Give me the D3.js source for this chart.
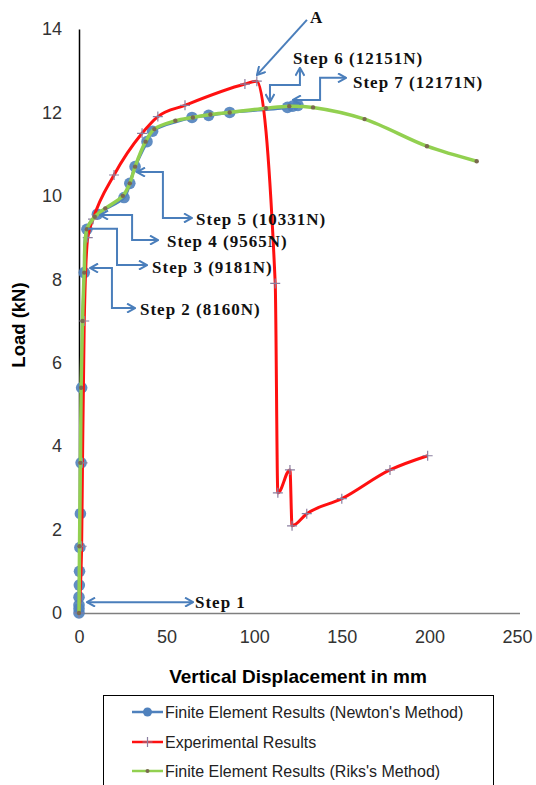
<!DOCTYPE html>
<html><head><meta charset="utf-8">
<script src="https://d3js.org/d3.v7.min.js"></script>
<style>body{margin:0;background:#fff}svg{display:block}</style>
</head><body>
<script>
// ---- data ----
const newtonX = [0,0,0,0,0.2,0.3,0.5,0.8,1.2,1.5,3,4.5,10.5,25.7,29,32,38.8,42,64.5,74,86,119,122,125];
const newtonY = [0,0.1,0.19,0.38,0.67,1.0,1.57,2.38,3.6,5.4,8.16,9.2,9.56,9.96,10.3,10.7,11.3,11.55,11.88,11.93,12.0,12.12,12.15,12.17];
const expX = [0,1.5,2,3,5,8,20,36,45,60.5,94.7,101.5,112,113.5,120.4,121.6,130,150,177.5,199];
const expY = [0,1.6,3.6,7.0,9.0,9.44,10.5,11.5,11.9,12.17,12.68,12.75,7.9,2.88,3.43,2.09,2.38,2.74,3.43,3.77];
const riksX = [0,0.3,0.8,1.2,2,3,4.5,9,15,25,29,32,38,43,55,65,75,86,106.7,120,133.6,163,198.6,227];
const riksY = [0,1.6,3.6,5.4,7.0,8.16,9.2,9.5,9.7,10.0,10.3,10.7,11.3,11.6,11.8,11.88,11.95,12.0,12.1,12.15,12.12,11.84,11.19,10.83];
const xTicks = [0,50,100,150,200,250];
const yTicks = [0,2,4,6,8,10,12,14];
const legendLabels = ["Finite Element Results (Newton's Method)","Experimental Results","Finite Element Results (Riks's Method)"];
// annotation arrows (data units): label, path points, text anchor point, arrowhead at start
const annLabels = ["Step 1","Step 2 (8160N)","Step 3 (9181N)","Step 4 (9565N)","Step 5 (10331N)","Step 6 (12151N)","Step 7 (12171N)","A"];
const annPaths = [
  [[4.6,0.26],[65.1,0.26]],
  [[6.3,8.27],[18.8,8.27],[18.8,7.31],[32.0,7.31]],
  [[5.1,9.21],[21.7,9.21],[21.7,8.34],[38.8,8.34]],
  [[12.0,9.54],[30.3,9.54],[30.3,8.94],[45.1,8.94]],
  [[33.1,10.57],[47.9,10.57],[47.9,9.47],[64.5,9.47]],
  [[109,12.25],[109,12.66],[126.1,12.66],[126.1,13.07]],
  [[122.1,12.30],[137.6,12.30],[137.6,12.83],[152.4,12.83]],
  [[130.1,14.22],[101.6,12.90]]
];
const annText = [[66.2,0.26],[34.8,7.29],[41.7,8.30],[50.2,8.92],[66.8,9.45],[122.1,13.3],[156.4,12.73],[131.8,14.29]];
const annStartHead = [true,true,false,true,true,true,true,false];

// ---- layout ----
const W = 536, H = 785;
const svg = d3.select("body").append("svg").attr("width", W).attr("height", H);
const x = d3.scaleLinear().domain([0,250]).range([79,517]);
const y = d3.scaleLinear().domain([0,14]).range([613,29]);
const blue = "#4f81bd", red = "#ff1010", green = "#92d050", arrowC = "#4a7ebb";

const defs = svg.append("defs");
defs.append("marker").attr("id","ah").attr("viewBox","0 0 10 10").attr("refX",9).attr("refY",5)
  .attr("markerWidth",10).attr("markerHeight",10).attr("markerUnits","userSpaceOnUse")
  .attr("orient","auto-start-reverse")
  .append("path").attr("d","M1,0.5 L9,5 L1,9.5").attr("fill","none").attr("stroke",arrowC).attr("stroke-width",2);

// axes
const xAxis = d3.axisBottom(x).tickValues(xTicks).tickSize(0).tickPadding(17);
const gx = svg.append("g").attr("transform",`translate(0,${y(0)})`).call(xAxis);
gx.select(".domain").attr("stroke","#7f7f7f").attr("stroke-width",1.3).attr("d",`M${x(0)},0.5H${x(250)+3}`);
gx.selectAll("text").attr("font-family","Liberation Sans, Arial, sans-serif").attr("font-size",18).attr("fill","#333");

const yAxis = d3.axisLeft(y).tickValues(yTicks).tickSize(0).tickPadding(17);
const gy = svg.append("g").attr("transform",`translate(${x(0)},0)`).call(yAxis);
gy.select(".domain").attr("stroke","#000").attr("stroke-width",1.5);
gy.selectAll("text").attr("font-family","Liberation Sans, Arial, sans-serif").attr("font-size",18).attr("fill","#333");

svg.append("text").attr("x",298).attr("y",683).attr("text-anchor","middle")
  .attr("font-family","Liberation Sans, Arial, sans-serif").attr("font-weight","bold").attr("font-size",19)
  .text("Vertical Displacement in mm");
svg.append("text").attr("transform","translate(25,325) rotate(-90)").attr("text-anchor","middle")
  .attr("font-family","Liberation Sans, Arial, sans-serif").attr("font-weight","bold").attr("font-size",18.5)
  .text("Load (kN)");

// series
const newton = newtonX.map((v,i)=>[v,newtonY[i]]);
const exp = expX.map((v,i)=>[v,expY[i]]);
const riks = riksX.map((v,i)=>[v,riksY[i]]);
const line = d3.line().x(d=>x(d[0])).y(d=>y(d[1])).curve(d3.curveCatmullRom.alpha(0.5));
const expLine = d3.line().x(d=>x(d[0])).y(d=>y(d[1])).curve(d3.curveMonotoneX);

svg.append("path").attr("d",line(newton)).attr("fill","none").attr("stroke",blue).attr("stroke-width",3);
svg.selectAll(".nm").data(newton).join("circle").attr("cx",d=>x(d[0])).attr("cy",d=>y(d[1])).attr("r",5.8).attr("fill",blue).attr("opacity",0.9);

svg.append("path").attr("d",expLine(exp)).attr("fill","none").attr("stroke",red).attr("stroke-width",3);
const pm = svg.append("g");
exp.forEach(d=>{
  pm.append("path").attr("d",`M${x(d[0])-5},${y(d[1])}h10M${x(d[0])},${y(d[1])-5}v10`).attr("stroke","#8a7fa0").attr("stroke-width",1.2);
});

svg.append("path").attr("d",line(riks)).attr("fill","none").attr("stroke",green).attr("stroke-width",3.5);
svg.selectAll(".rm").data(riks).join("circle").attr("cx",d=>x(d[0])).attr("cy",d=>y(d[1])).attr("r",2.2).attr("fill","#7a6a4f");

// annotations
const aline = d3.line().x(d=>x(d[0])).y(d=>y(d[1]));
annPaths.forEach((p,i)=>{
  svg.append("path").attr("d",aline(p)).attr("fill","none").attr("stroke",arrowC).attr("stroke-width",2)
    .attr("marker-end","url(#ah)").attr("marker-start", annStartHead[i] ? "url(#ah)" : null);
  svg.append("text").attr("x",x(annText[i][0])).attr("y",y(annText[i][1])).attr("dy","0.35em")
    .attr("font-family","Liberation Serif, Times New Roman, serif").attr("font-weight","bold").attr("font-size",17)
    .attr("letter-spacing",1).attr("fill","#111").text(annLabels[i]);
});

// legend
const lg = svg.append("g");
lg.append("rect").attr("x",103.5).attr("y",695.5).attr("width",390).attr("height",100).attr("fill","#fff").attr("stroke","#000").attr("stroke-width",1);
const rowsY = [712,742,771];
legendLabels.forEach((t,i)=>{
  const yy = rowsY[i];
  const col = [blue,red,green][i];
  lg.append("line").attr("x1",132).attr("x2",163).attr("y1",yy).attr("y2",yy).attr("stroke",col).attr("stroke-width",2.5);
  if(i===0) lg.append("circle").attr("cx",147.5).attr("cy",yy).attr("r",4.5).attr("fill",blue);
  if(i===1) lg.append("path").attr("d",`M142.5,${yy}h10M147.5,${yy-5}v10`).attr("stroke","#8a7fa0").attr("stroke-width",1.2);
  if(i===2) lg.append("circle").attr("cx",147.5).attr("cy",yy).attr("r",2).attr("fill","#7a6a4f");
  lg.append("text").attr("x",165).attr("y",yy).attr("dy","0.35em")
    .attr("font-family","Liberation Sans, Arial, sans-serif").attr("font-size",16).attr("fill","#222").text(t);
});
</script>
</body></html>
